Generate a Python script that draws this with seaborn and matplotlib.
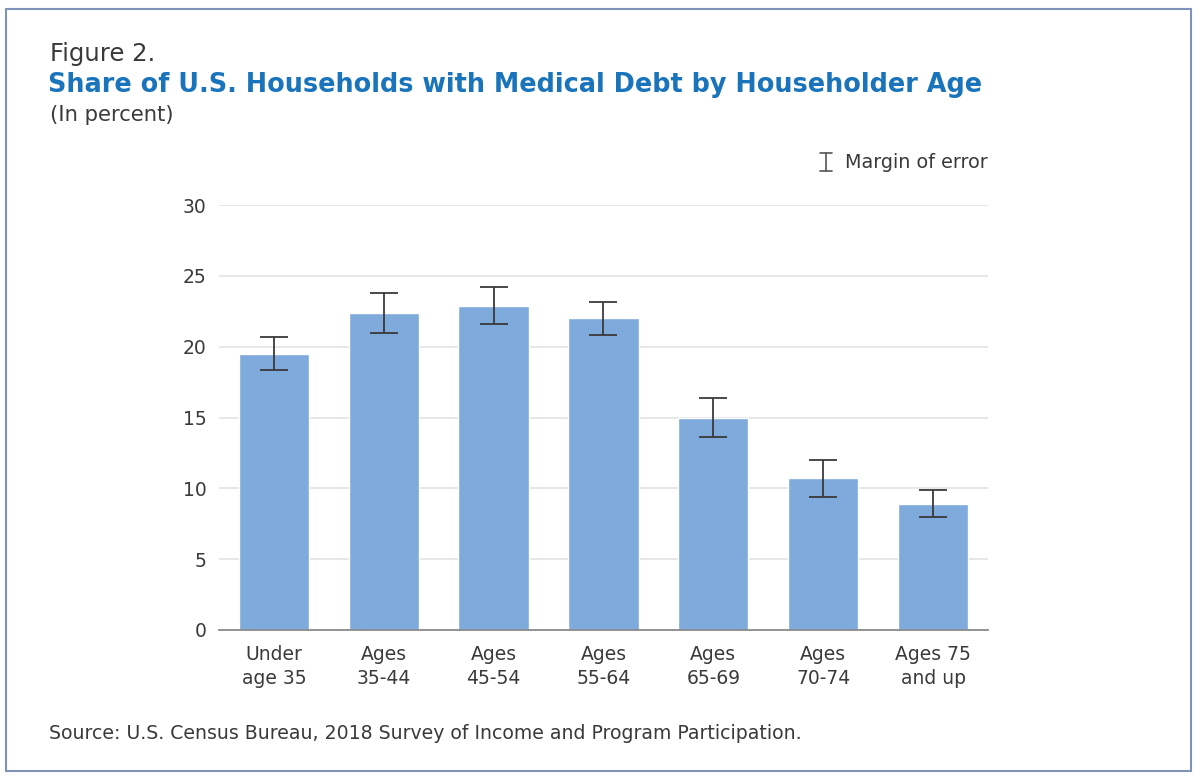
import numpy as np
import pandas as pd
import matplotlib.pyplot as plt
import seaborn as sns
from matplotlib.lines import Line2D
from matplotlib.patches import Rectangle

sns.set_style('white')
plt.rcParams['font.family'] = ['DejaVu Sans']

# data
age_groups = ['Under\nage 35', 'Ages\n35-44', 'Ages\n45-54', 'Ages\n55-64',
              'Ages\n65-69', 'Ages\n70-74', 'Ages 75\nand up']
share = [19.5, 22.4, 22.9, 22.0, 15.0, 10.7, 8.9]
margin = [1.15, 1.4, 1.3, 1.15, 1.35, 1.3, 0.95]
y_ticks = [0, 5, 10, 15, 20, 25, 30]

df = pd.DataFrame({'age': age_groups, 'share': share, 'moe': margin})

bar_color = '#7faadc'
text_color = '#3a3a3a'
title_blue = '#1a74bb'

fig = plt.figure(figsize=(12, 7.79), dpi=100)
ax = fig.add_axes([0.1825, 0.1913, 0.6408, 0.5455])

sns.barplot(data=df, x='age', y='share', color=bar_color, width=0.64,
            saturation=1, errorbar=None, ax=ax, zorder=2)
ax.errorbar(np.arange(len(age_groups)), df['share'], yerr=df['moe'],
            fmt='none', ecolor='#3a3a3a', elinewidth=1.3, capsize=10,
            capthick=1.3, zorder=3)

ax.set_xlim(-0.5, len(age_groups) - 0.5)
ax.set_ylim(0, 30)
ax.set_yticks(y_ticks)
ax.yaxis.grid(True, color='#e3e3e3', linewidth=1.2, zorder=0)
ax.set_axisbelow(True)
ax.set_xlabel('')
ax.set_ylabel('')
for side in ['top', 'right', 'left']:
    ax.spines[side].set_visible(False)
ax.spines['bottom'].set_color('#8a8a8a')
ax.spines['bottom'].set_linewidth(1.3)
ax.tick_params(axis='both', length=0, labelsize=13.5, colors=text_color)
ax.tick_params(axis='y', pad=9)
ax.tick_params(axis='x', pad=11)
for lbl in ax.get_xticklabels():
    lbl.set_linespacing(1.3)

# titles
fig.text(0.042, 0.931, 'Figure 2.', fontsize=17.5, color=text_color, va='center')
fig.text(0.040, 0.891, 'Share of U.S. Households with Medical Debt by Householder Age',
         fontsize=18.4, fontweight='bold', color=title_blue, va='center')
fig.text(0.042, 0.853, '(In percent)', fontsize=15.2, color=text_color, va='center')

# margin of error key
kx, ky = 826 / 1200, 1 - 162 / 779
dy = 9 / 779
dx = 6 / 1200
for line in [([kx, kx], [ky - dy, ky + dy]),
             ([kx - dx, kx + dx], [ky + dy, ky + dy]),
             ([kx - dx, kx + dx], [ky - dy, ky - dy])]:
    fig.add_artist(Line2D(line[0], line[1], color='#555555', linewidth=1.2))
fig.text(845 / 1200, ky, 'Margin of error', fontsize=13.8, color=text_color, va='center')

# source
fig.text(0.041, 0.058, 'Source: U.S. Census Bureau, 2018 Survey of Income and Program Participation.',
         fontsize=13.6, color=text_color, va='center')

# frame
fig.add_artist(Rectangle((6 / 1200, 1 - 771 / 779), 1185 / 1200, 762 / 779,
                         fill=False, edgecolor='#7f93b8', linewidth=1.5))

fig.savefig('out.png', dpi=100)
